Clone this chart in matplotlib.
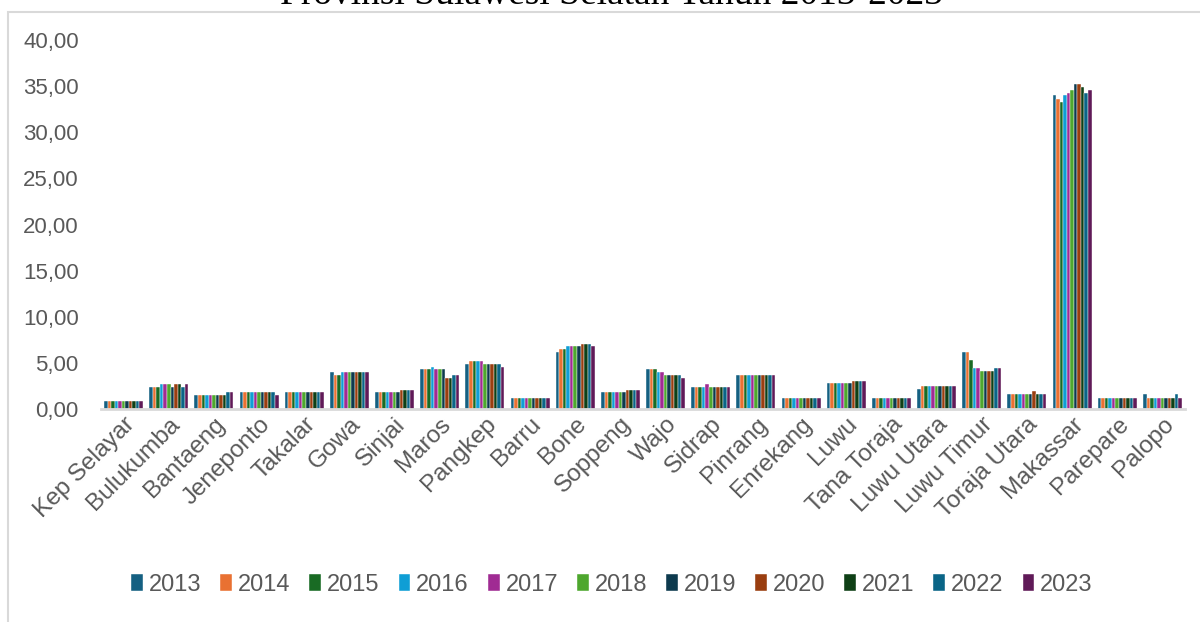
import numpy as np
import matplotlib.pyplot as plt
from matplotlib.patches import Rectangle

plt.rcParams['font.family'] = ['Liberation Sans', 'DejaVu Sans']

regions = ['Kep Selayar', 'Bulukumba', 'Bantaeng', 'Jeneponto', 'Takalar', 'Gowa',
           'Sinjai', 'Maros', 'Pangkep', 'Barru', 'Bone', 'Soppeng', 'Wajo', 'Sidrap',
           'Pinrang', 'Enrekang', 'Luwu', 'Tana Toraja', 'Luwu Utara', 'Luwu Timur',
           'Toraja Utara', 'Makassar', 'Parepare', 'Palopo']
years = ['2013', '2014', '2015', '2016', '2017', '2018', '2019', '2020', '2021', '2022', '2023']

# one row per region, one column per year
kep_selayar = [0.9, 0.9, 0.9, 0.9, 0.9, 0.9, 0.9, 0.9, 0.9, 0.9, 0.9]
bulukumba = [2.4, 2.4, 2.4, 2.7, 2.7, 2.7, 2.4, 2.7, 2.7, 2.4, 2.7]
bantaeng = [1.5, 1.5, 1.5, 1.5, 1.5, 1.5, 1.5, 1.5, 1.5, 1.8, 1.8]
jeneponto = [1.8, 1.8, 1.8, 1.8, 1.8, 1.8, 1.8, 1.8, 1.8, 1.8, 1.5]
takalar = [1.8, 1.8, 1.8, 1.8, 1.8, 1.8, 1.8, 1.8, 1.8, 1.8, 1.8]
gowa = [4.0, 3.7, 3.7, 4.0, 4.0, 4.0, 4.0, 4.0, 4.0, 4.0, 4.0]
sinjai = [1.8, 1.8, 1.8, 1.8, 1.8, 1.8, 1.8, 2.1, 2.1, 2.1, 2.1]
maros = [4.3, 4.3, 4.3, 4.6, 4.3, 4.3, 4.3, 3.4, 3.4, 3.7, 3.7]
pangkep = [4.9, 5.2, 5.2, 5.2, 5.2, 4.9, 4.9, 4.9, 4.9, 4.9, 4.6]
barru = [1.2, 1.2, 1.2, 1.2, 1.2, 1.2, 1.2, 1.2, 1.2, 1.2, 1.2]
bone = [6.2, 6.5, 6.5, 6.8, 6.8, 6.8, 6.8, 7.1, 7.1, 7.1, 6.8]
soppeng = [1.8, 1.8, 1.8, 1.8, 1.8, 1.8, 1.8, 2.1, 2.1, 2.1, 2.1]
wajo = [4.3, 4.3, 4.3, 4.0, 4.0, 3.7, 3.7, 3.7, 3.7, 3.7, 3.4]
sidrap = [2.4, 2.4, 2.4, 2.4, 2.7, 2.4, 2.4, 2.4, 2.4, 2.4, 2.4]
pinrang = [3.7, 3.7, 3.7, 3.7, 3.7, 3.7, 3.7, 3.7, 3.7, 3.7, 3.7]
enrekang = [1.2, 1.2, 1.2, 1.2, 1.2, 1.2, 1.2, 1.2, 1.2, 1.2, 1.2]
luwu = [2.8, 2.8, 2.8, 2.8, 2.8, 2.8, 2.8, 3.0, 3.0, 3.0, 3.0]
tana_toraja = [1.2, 1.2, 1.2, 1.2, 1.2, 1.2, 1.2, 1.2, 1.2, 1.2, 1.2]
luwu_utara = [2.2, 2.5, 2.5, 2.5, 2.5, 2.5, 2.5, 2.5, 2.5, 2.5, 2.5]
luwu_timur = [6.2, 6.2, 5.3, 4.4, 4.4, 4.1, 4.1, 4.1, 4.1, 4.4, 4.4]
toraja_utara = [1.6, 1.6, 1.6, 1.6, 1.6, 1.6, 1.6, 1.9, 1.6, 1.6, 1.6]
makassar = [34.0, 33.6, 33.3, 34.0, 34.3, 34.6, 35.2, 35.2, 34.9, 34.3, 34.6]
parepare = [1.2, 1.2, 1.2, 1.2, 1.2, 1.2, 1.2, 1.2, 1.2, 1.2, 1.2]
palopo = [1.6, 1.2, 1.2, 1.2, 1.2, 1.2, 1.2, 1.2, 1.2, 1.6, 1.2]

values = np.array([kep_selayar, bulukumba, bantaeng, jeneponto, takalar, gowa, sinjai,
                   maros, pangkep, barru, bone, soppeng, wajo, sidrap, pinrang, enrekang,
                   luwu, tana_toraja, luwu_utara, luwu_timur, toraja_utara, makassar,
                   parepare, palopo])

colors = ['#156082', '#E97132', '#196B24', '#0F9ED5', '#A02B93', '#4EA72E',
          '#0D3A4E', '#9A3E10', '#0F4016', '#0A6587', '#601A58']

fig = plt.figure(figsize=(12, 6.22), dpi=100)
ax = fig.add_axes([101 / 1200, 1 - 409 / 622, (1185 - 101) / 1200, (409 - 40) / 622])

x = np.arange(len(regions))
group = 0.86
w = group / len(years)
for i, yr in enumerate(years):
    ax.bar(x - group / 2 + w * (i + 0.5), values[:, i], width=w, color=colors[i],
           label=yr, edgecolor='white', linewidth=0.3)

ax.set_xlim(-0.5, len(regions) - 0.5)
ax.set_ylim(0, 40)
ax.set_yticks(np.arange(0, 41, 5))
ax.set_yticklabels([f'{v:.2f}'.replace('.', ',') for v in np.arange(0, 41, 5)])
ax.set_xticks(x)
ax.set_xticklabels(regions, rotation=45, ha='right', rotation_mode='anchor')
ax.tick_params(axis='both', length=0, labelsize=16, labelcolor='#595959')
ax.tick_params(axis='x', labelsize=17.5, pad=3)
ax.tick_params(axis='y', pad=16)
for s in ['top', 'right', 'left']:
    ax.spines[s].set_visible(False)
ax.spines['bottom'].set_color('#d9d9d9')
ax.spines['bottom'].set_linewidth(2)

leg = fig.legend(loc='center', bbox_to_anchor=(0.51, 1 - 585 / 622), ncol=11,
                 frameon=False, fontsize=17, handlelength=0.5, handleheight=0.7,
                 handletextpad=0.25, columnspacing=0.8)
for t in leg.get_texts():
    t.set_color('#595959')

# outer chart frame
fig.patches.append(Rectangle((8 / 1200, -0.1), 2, 1.1 - 12 / 622, transform=fig.transFigure,
                             fill=False, edgecolor='#d9d9d9', linewidth=1.5))

fig.text(0.51, 1 - 4 / 622, 'Provinsi Sulawesi Selatan Tahun 2013-2023', ha='center',
         va='baseline', fontsize=27, family='Liberation Serif', color='#000000')

fig.savefig('out.png', dpi=100)
